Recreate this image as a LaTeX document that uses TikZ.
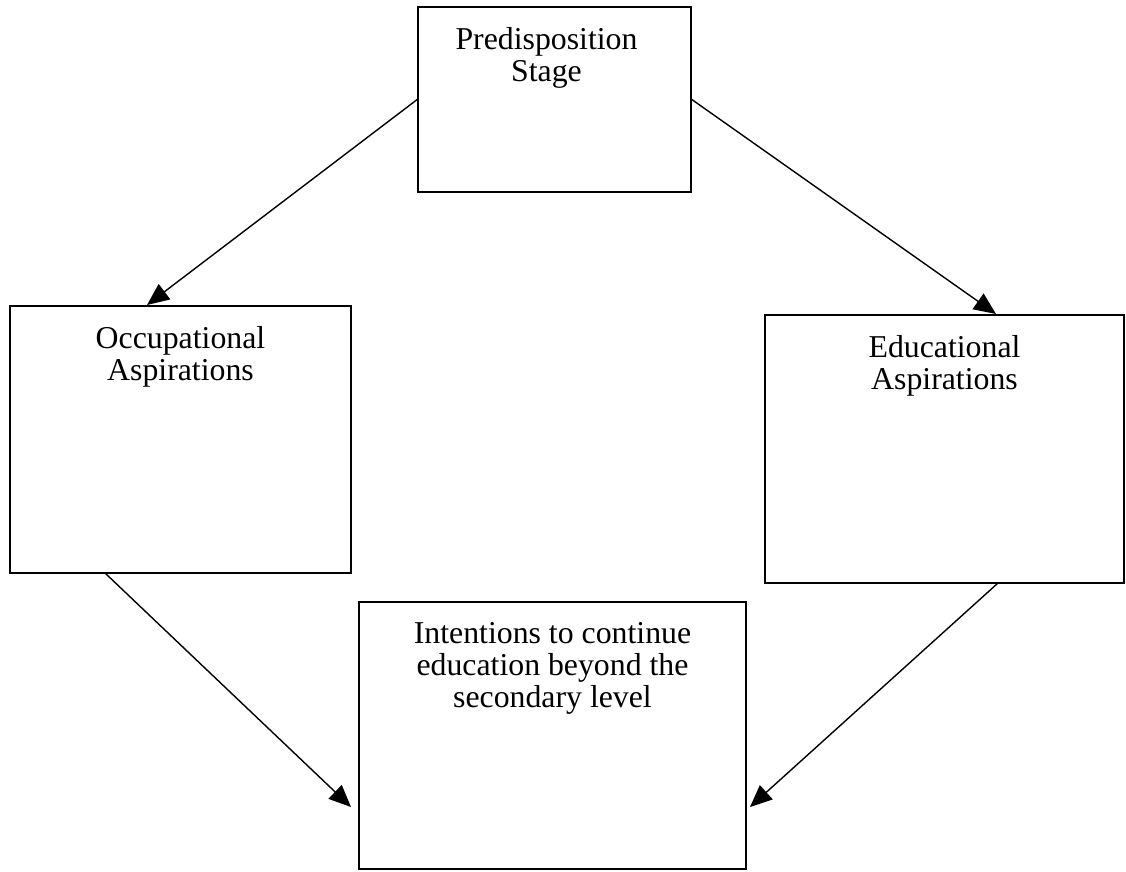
\documentclass[tikz,border=0pt]{standalone}
\usepackage{fontspec}
\setmainfont{Liberation Serif}
\usetikzlibrary{positioning}
\usetikzlibrary{arrows.meta}
\tikzset{
    box/.style={draw, line width=1.6pt, inner sep=0pt},
    lbl/.style={inner sep=0pt, align=center, font=\fontsize{31.8pt}{32pt}\selectfont},
    flow/.style={line width=1.4pt, -{Triangle[length=22pt, width=19pt]}},
}

\begin{document}
\begin{tikzpicture}[x=1pt, y=-1pt]
    \useasboundingbox (0,0) rectangle (1126,871);
    \node[box, minimum width=273pt, minimum height=185pt] (top) at (554.5,99.5) {};
    \node[box, minimum width=341pt, minimum height=267pt] (occ) at (180.5,439.5) {};
    \node[box, minimum width=359pt, minimum height=268pt] (edu) at (944.5,449) {};
    \node[box, minimum width=387pt, minimum height=267pt] (int) at (552.5,735.5) {};
    \node[lbl, below=21pt of top.north, xshift=-8pt] (top-txt) {Predisposition\\Stage};
    \node[lbl, below=21pt of occ.north] (occ-txt) {Occupational\\Aspirations};
    \node[lbl, below=21pt of edu.north] (edu-txt) {Educational\\Aspirations};
    \node[lbl, below=21pt of int.north] (int-txt) {Intentions to continue\\education beyond the\\secondary level};
    \coordinate (occ-in) at (147,305);
    \coordinate (edu-in) at (996,314);
    \coordinate (occ-out) at (105,573);
    \coordinate (edu-out) at (998,583);
    \coordinate (int-in-l) at (351,807);
    \coordinate (int-in-r) at (750,807);
    \draw[flow] (top.west) -- (occ-in);
    \draw[flow] (top.east) -- (edu-in);
    \draw[flow] (occ-out) -- (int-in-l);
    \draw[flow] (edu-out) -- (int-in-r);
\end{tikzpicture}
\end{document}
